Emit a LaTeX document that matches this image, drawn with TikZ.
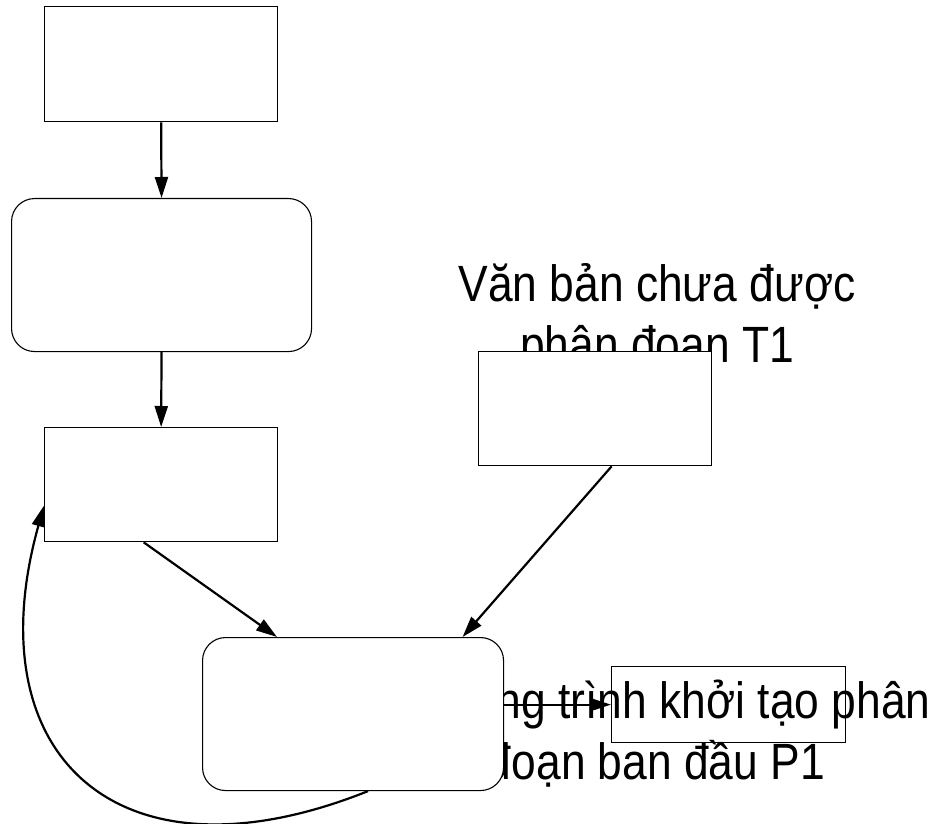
\documentclass[tikz,border=0pt]{standalone}
\usepackage{fontspec}
\setmainfont{Liberation Sans}[FakeStretch=0.87]
\usetikzlibrary{arrows.meta}
\begin{document}
\begin{tikzpicture}[x=1pt,y=-1pt,
  box/.style={draw, line width=1.3pt, inner sep=0pt, anchor=north west, fill=white},
  rbox/.style={box, line width=1.1pt, rounded corners=23pt},
  lbl/.style={font=\fontsize{51}{61}\selectfont, align=center, inner sep=0pt, anchor=base},
  arr/.style={line width=2.2pt, -{Triangle[length=21pt,width=13pt]}}]
\useasboundingbox (0,0) rectangle (938,824);
% labels (drawn first, partly covered by boxes)
\node[lbl] (t1) at (657,362) {Văn bản chưa được\\phân đoạn T1};
\node[lbl] (p1) at (656,779) {Chương trình khởi tạo phân\\đoạn ban đầu P1};
% boxes
\node[box, minimum width=233pt, minimum height=115pt] (A) at (44,6) {};
\node[rbox, minimum width=300pt, minimum height=153pt] (B) at (11,198) {};
\node[box, minimum width=233pt, minimum height=114pt] (C) at (44,427) {};
\node[box, minimum width=233pt, minimum height=114pt] (D) at (478,351) {};
\node[rbox, minimum width=301pt, minimum height=153pt] (E) at (202,637) {};
\node[box, fill=none, minimum width=234pt, minimum height=76pt] (F) at (611,666) {};
% connectors
\draw[arr] (A.south) -- (B.north);
\draw[arr] (B.south) -- (C.north);
\draw[arr] ([xshift=-17.5pt]C.south) -- ([xshift=75pt]E.north west);
\draw[arr] ([xshift=16.5pt]D.south) -- ([xshift=109.5pt]E.north);
\draw[arr] (E.east |- F.west) -- (F.west);
\draw[arr] ([xshift=15pt]E.south) .. controls +(-250,100) and +(-70,250) .. ([yshift=-21pt]C.west);
\end{tikzpicture}
\end{document}
